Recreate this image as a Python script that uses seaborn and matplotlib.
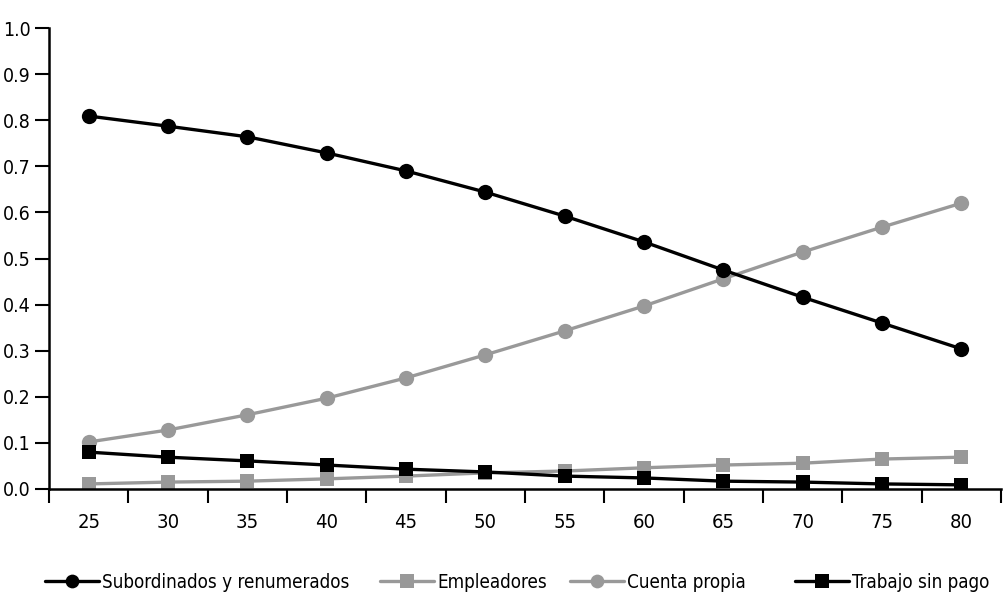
import matplotlib
matplotlib.use("Agg")
import matplotlib.pyplot as plt
import seaborn as sns
import pandas as pd

ages = [25, 30, 35, 40, 45, 50, 55, 60, 65, 70, 75, 80]
subordinados = [0.809, 0.787, 0.764, 0.729, 0.690, 0.644, 0.592, 0.536, 0.475, 0.416, 0.360, 0.304]
empleadores = [0.011, 0.015, 0.017, 0.022, 0.028, 0.035, 0.039, 0.046, 0.052, 0.056, 0.065, 0.069]
cuenta_propia = [0.102, 0.128, 0.161, 0.197, 0.241, 0.291, 0.343, 0.397, 0.456, 0.514, 0.568, 0.620]
trabajo_sin_pago = [0.080, 0.069, 0.061, 0.052, 0.043, 0.037, 0.028, 0.024, 0.017, 0.015, 0.011, 0.009]
series_names = ["Subordinados y renumerados", "Empleadores", "Cuenta propia", "Trabajo sin pago"]
y_ticks = [0.0, 0.1, 0.2, 0.3, 0.4, 0.5, 0.6, 0.7, 0.8, 0.9, 1.0]

sns.set_theme(style="white")
plt.rcParams["font.family"] = ["DejaVu Sans"]
plt.rcParams["font.stretch"] = "condensed"
plt.rcParams["text.color"] = "black"
plt.rcParams["xtick.color"] = "black"
plt.rcParams["ytick.color"] = "black"

styles = [("black", "o"), ("#999999", "s"), ("#999999", "o"), ("black", "s")]
values = [subordinados, empleadores, cuenta_propia, trabajo_sin_pago]

W, H = 1008, 603
fig = plt.figure(figsize=(W/100, H/100), dpi=100)
ax = fig.add_axes([49/W, (H-489)/H, (1001-49)/W, (489-28)/H])

pos = list(range(len(ages)))
order = [1, 2, 3, 0]
for i in order:
    c, m = styles[i]
    df = pd.DataFrame({"x": pos, "y": values[i]})
    sns.lineplot(data=df, x="x", y="y", ax=ax, color=c, marker=m,
                 markersize=11 if m == "o" else 10.5, markeredgewidth=0,
                 linewidth=2.4, label=series_names[i])

ax.set_xlim(-0.5, len(ages) - 0.5)
ax.set_ylim(0, 1.0)
ax.set_xticks([p - 0.5 for p in range(len(ages) + 1)])
ax.set_xticklabels([])
ax.set_xticks(pos, minor=True)
ax.set_xticklabels([str(a) for a in ages], minor=True, fontsize=14.5)
ax.tick_params(axis="x", which="major", direction="out", length=10, width=1.5, color="black", bottom=True)
ax.tick_params(axis="x", which="minor", length=0, pad=17)
ax.set_yticks(y_ticks)
ax.set_yticklabels([f"{v:.1f}" for v in y_ticks], fontsize=14)
ax.tick_params(axis="y", direction="out", length=10, width=1.5, color="black", left=True, pad=3)
ax.set_xlabel("")
ax.set_ylabel("")
for s in ["top", "right"]:
    ax.spines[s].set_visible(False)
for s in ["left", "bottom"]:
    ax.spines[s].set_color("black")
    ax.spines[s].set_linewidth(1.8)

h, l = ax.get_legend_handles_labels()
ax.get_legend().remove()
lookup = dict(zip(l, h))
leg_x = [45, 380, 570, 795]
for name, px in zip(series_names, leg_x):
    fig.legend([lookup[name]], [name], loc="center left",
               bbox_to_anchor=(px/W, (H-582)/H), frameon=False, fontsize=13.5,
               handlelength=2.9, handletextpad=0.15, borderpad=0, borderaxespad=0,
               markerscale=0.9)
fig.savefig("out.png", dpi=100)
